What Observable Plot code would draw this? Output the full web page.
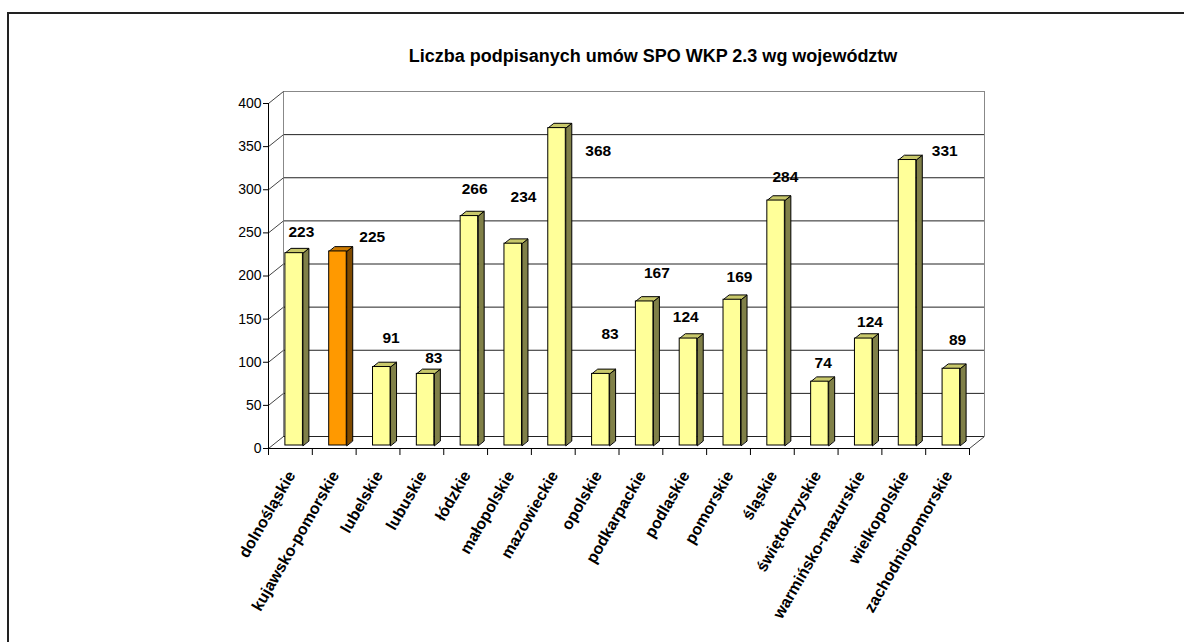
<!DOCTYPE html>
<html>
<head>
<meta charset="utf-8">
<script src="https://cdn.jsdelivr.net/npm/d3@7"></script>
<script src="https://cdn.jsdelivr.net/npm/@observablehq/plot@0.6"></script>
<style>
  html, body { margin: 0; padding: 0; background: #fff; }
  #wrap { position: relative; width: 1184px; height: 642px; overflow: hidden; }
  #border { position: absolute; left: 7px; top: 12px; width: 1400px; height: 900px;
            border-left: 2px solid #222; border-top: 2px solid #222; }
  #chart { position: absolute; left: 0; top: 0; }
</style>
</head>
<body>
<div id="wrap"><div id="border"></div><div id="chart"></div></div>
<script>
// ---- data ----
const title = "Liczba podpisanych umów SPO WKP 2.3 wg województw";
const categories = ["dolnośląskie","kujawsko-pomorskie","lubelskie","lubuskie","łódzkie","małopolskie","mazowieckie","opolskie","podkarpackie","podlaskie","pomorskie","śląskie","świętokrzyskie","warmińsko-mazurskie","wielkopolskie","zachodniopomorskie"];
const values = [223,225,91,83,266,234,368,83,167,124,169,284,74,124,331,89];
const highlighted = ["kujawsko-pomorskie"];
const yTicks = [0,50,100,150,200,250,300,350,400];

// ---- layout (pixels) ----
const W = 1184, H = 642;
const mL = 268, mR = 215, mT = 103, mB = 194;
const pxX = (W - mL - mR) / categories.length;   // px per category unit
const pxY = (H - mT - mB) / 400;                  // px per value unit
const ux = 1 / pxX, uy = 1 / pxY;
const depthX = 15, depthY = 12;                   // 3D depth of the wall, px
const f0 = 0.25, fBar = 0.4, halfW = 0.2;
const ddx = fBar * depthX * ux, ddy = fBar * depthY * uy;
const Dx = depthX * ux, Dy = depthY * uy;
// value-label nudges in px (dx, dy) relative to bar centre / bar top
const labelNudge = [[11,-24],[38,-17],[13,-32],[12,-19],[9,-30],[14,-50],[45,20],[13,-43],[16,-31],[1,-25],[11,-26],[13,-27],[7,-22],[10,-20],[41,-12],[10,-32]];

const rows = categories.map((c, i) => ({
  c, i, v: values[i],
  hl: highlighted.includes(c)
}));
const colFront = r => r.hl ? "#FF9900" : "#FFFF99";
const colSide  = r => r.hl ? "#7F4A00" : "#808048";
const colTop   = r => r.hl ? "#CC7A00" : "#C8C86A";

const sidePts = [], topPts = [];
rows.forEach(r => {
  const xa = r.i + 0.5 - halfW, xb = r.i + 0.5 + halfW;
  [[xb,0],[xb,r.v],[xb+ddx,r.v+ddy],[xb+ddx,ddy]].forEach(([x,y]) => sidePts.push({k:r.c, x, y, fill: colSide(r)}));
  [[xa,r.v],[xb,r.v],[xb+ddx,r.v+ddy],[xa+ddx,r.v+ddy]].forEach(([x,y]) => topPts.push({k:r.c, x, y, fill: colTop(r)}));
});

const font = "'Liberation Sans', Arial, sans-serif";

const chart = Plot.plot({
  width: W, height: H,
  marginLeft: mL, marginRight: mR, marginTop: mT, marginBottom: mB,
  x: {type: "linear", domain: [0, categories.length], axis: null},
  y: {type: "linear", domain: [0, 400], axis: null},
  color: {type: "identity"},
  style: {fontFamily: font, background: "transparent", overflow: "visible", color: "#000"},
  marks: [
    // back wall grid
    Plot.ruleY(yTicks.filter(t => t < 400), {y: t => t + Dy, x1: Dx, x2: categories.length + Dx, stroke: "#222", strokeWidth: 1}),
    Plot.ruleY([400], {y: t => t + Dy, x1: Dx, x2: categories.length + Dx, stroke: "#888"}),
    Plot.ruleX([Dx], {y1: Dy, y2: 400 + Dy, stroke: "#888"}),
    Plot.ruleX([categories.length + Dx], {y1: Dy, y2: 400 + Dy, stroke: "#888"}),
    // left wall diagonals
    Plot.link(yTicks, {x1: 0, y1: t => t, x2: Dx, y2: t => t + Dy, stroke: "#444"}),
    // floor right edge
    Plot.link([0], {x1: categories.length, y1: 0, x2: categories.length + Dx, y2: Dy, stroke: "#444"}),
    // bars: side + top faces
    Plot.line(sidePts, {x: "x", y: "y", z: "k", fill: "fill", stroke: "#000", strokeWidth: 1, curve: "linear-closed", dx: f0 * depthX, dy: -f0 * depthY}),
    Plot.line(topPts, {x: "x", y: "y", z: "k", fill: "fill", stroke: "#000", strokeWidth: 1, curve: "linear-closed", dx: f0 * depthX, dy: -f0 * depthY}),
    // bars: front face
    Plot.rect(rows, {x1: r => r.i + 0.5 - halfW, x2: r => r.i + 0.5 + halfW, y1: 0, y2: "v", fill: colFront, stroke: "#000", strokeWidth: 1, dx: f0 * depthX, dy: -f0 * depthY}),
    // front axes
    Plot.ruleX([0], {y1: 0, y2: 400, stroke: "#000"}),
    Plot.ruleY([0], {x1: 0, x2: categories.length, stroke: "#000"}),
    Plot.ruleY(yTicks, {x1: 0, x2: -5 * ux, stroke: "#000"}),
    Plot.ruleX(d3.range(categories.length + 1), {y1: 0, y2: -7 * uy, stroke: "#000"}),
    Plot.text(yTicks, {x: 0, y: t => t, dx: -7, textAnchor: "end", fontSize: 14, fill: "#000"}),
    // category labels
    Plot.text(rows, {x: r => r.i + 0.5, y: 0, text: "c", rotate: -60, textAnchor: "end", lineAnchor: "middle", dx: 1, dy: 24, fontSize: 16, fontWeight: "bold", fill: "#000"}),
    // value labels
    Plot.text(rows, {x: r => r.i + 0.5 + labelNudge[r.i][0] * ux, y: r => r.v - labelNudge[r.i][1] * uy, text: r => String(r.v), fontSize: 15.5, fontWeight: "bold", fill: "#000"}),
    // title
    Plot.text([title], {frameAnchor: "top", dx: 652.5 - (mL + (W - mL - mR) / 2), dy: -54, fontSize: 18, fontWeight: "bold", fill: "#000"})
  ]
});
document.getElementById("chart").appendChild(chart);
</script>
</body>
</html>
